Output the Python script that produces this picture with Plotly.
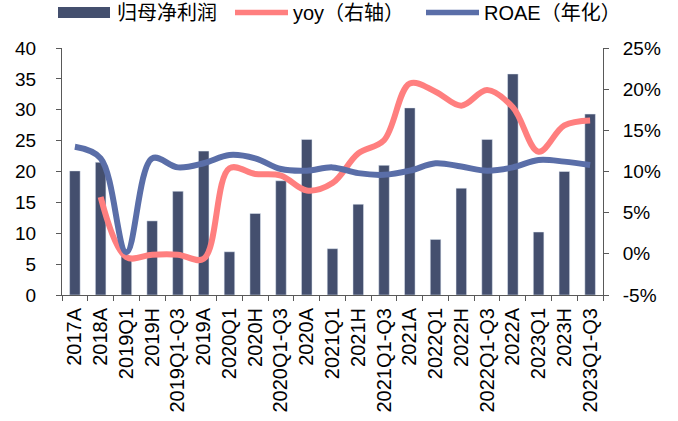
import plotly.graph_objects as go

categories = ["2017A", "2018A", "2019Q1", "2019H", "2019Q1-Q3", "2019A", "2020Q1", "2020H",
              "2020Q1-Q3", "2020A", "2021Q1", "2021H", "2021Q1-Q3", "2021A", "2022Q1", "2022H",
              "2022Q1-Q3", "2022A", "2023Q1", "2023H", "2023Q1-Q3"]
net_profit = [20.1, 21.5, 6.3, 12.0, 16.8, 23.3, 7.0, 13.2, 18.5, 25.2, 7.5,
              14.7, 21.0, 30.3, 9.0, 17.3, 25.2, 35.8, 10.2, 20.0, 29.3]
yoy = [None, 6.9, -0.4, -0.1, -0.1, -0.6, 10.4, 9.7, 9.5, 7.7, 8.6,
       12.2, 13.8, 20.7, 19.7, 18.0, 19.9, 17.8, 12.4, 15.6, 16.2]
roae = [13.0, 11.6, 0.2, 11.6, 10.5, 11.0, 12.0, 11.6, 10.3, 10.1, 10.5,
        9.8, 9.6, 10.1, 11.0, 10.6, 10.1, 10.5, 11.4, 11.2, 10.8]
left_ticks = [0, 5, 10, 15, 20, 25, 30, 35, 40]
right_ticks = [-5, 0, 5, 10, 15, 20, 25]
right_ticktext = ["-5%", "0%", "5%", "10%", "15%", "20%", "25%"]
series_names = ["归母净利润", "yoy（右轴）", "ROAE（年化）"]

bar_color = "#444F6E"
red = "#FF7F7F"
blue = "#5A6EA8"
axis_color = "#595959"
font_family = "Liberation Sans, Arial, Noto Sans CJK SC, sans-serif"

W, H = 678, 421
L, R, T, B = 62, 75, 48, 126
pw, ph = W - L - R, H - T - B


def px(x):
    return (x - L) / pw


def py(y):
    return (H - B - y) / ph


fig = go.Figure()
fig.add_trace(go.Bar(x=categories, y=net_profit, name=series_names[0], marker_color=bar_color,
                     yaxis="y"))
fig.add_trace(go.Scatter(x=categories, y=yoy, name=series_names[1], mode="lines",
                         line=dict(color=red, width=6, shape="spline", smoothing=1.0),
                         yaxis="y2", connectgaps=False))
fig.add_trace(go.Scatter(x=categories, y=roae, name=series_names[2], mode="lines",
                         line=dict(color=blue, width=6, shape="spline", smoothing=1.0),
                         yaxis="y2"))

# manual legend (symbols as shapes, labels as annotations)
shapes = [
    dict(type="rect", xref="paper", yref="paper", x0=px(58), x1=px(110), y0=py(18), y1=py(7),
         fillcolor=bar_color, line=dict(width=0)),
    dict(type="line", xref="paper", yref="paper", x0=px(235), x1=px(288), y0=py(12.5), y1=py(12.5),
         line=dict(color=red, width=5.5)),
    dict(type="line", xref="paper", yref="paper", x0=px(426), x1=px(479), y0=py(12.5), y1=py(12.5),
         line=dict(color=blue, width=5.5)),
]
annotations = [
    dict(text=series_names[0], xref="paper", yref="paper", x=px(115), y=py(13), xanchor="left",
         yanchor="middle", showarrow=False, font=dict(size=20)),
    dict(text=series_names[1], xref="paper", yref="paper", x=px(291), y=py(13), xanchor="left",
         yanchor="middle", showarrow=False, font=dict(size=20)),
    dict(text=series_names[2], xref="paper", yref="paper", x=px(482), y=py(13), xanchor="left",
         yanchor="middle", showarrow=False, font=dict(size=20)),
]

fig.update_layout(
    width=W, height=H,
    margin=dict(l=L, r=R, t=T, b=B, pad=0, autoexpand=False),
    paper_bgcolor="white", plot_bgcolor="white",
    font=dict(family=font_family, size=18, color="#000000"),
    bargap=0.59,
    showlegend=False,
    shapes=shapes,
    annotations=annotations,
    xaxis=dict(type="category", tickangle=-90, showline=True, linecolor=axis_color,
               linewidth=1, ticks="outside", tickson="boundaries", ticklen=5,
               tickcolor=axis_color, showgrid=False, tickfont=dict(size=20),
               range=[-0.5, len(categories) - 0.5], automargin=False, ticklabelstandoff=4),
    yaxis=dict(range=[0, 40], tickvals=left_ticks, showline=True, linecolor=axis_color, linewidth=1,
               ticks="outside", ticklen=5, tickcolor=axis_color, showgrid=False,
               zeroline=False, tickfont=dict(size=19), automargin=False, ticklabelstandoff=16),
    yaxis2=dict(range=[-5, 25], tickvals=right_ticks, ticktext=right_ticktext,
                overlaying="y", side="right",
                showline=True, linecolor=axis_color, linewidth=1, ticks="outside",
                ticklen=5, tickcolor=axis_color, showgrid=False, zeroline=False,
                tickfont=dict(size=19), automargin=False, ticklabelstandoff=10),
)

fig.write_html("out.html")
